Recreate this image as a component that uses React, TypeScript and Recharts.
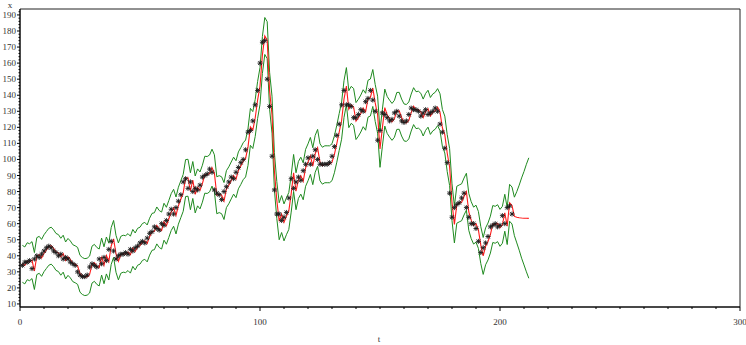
import React from 'react';
import { ComposedChart, Line, XAxis, YAxis, ReferenceArea, Customized } from 'recharts';

// observations x(t), t = 1..205
const obsValues = [
  34, 36, 36, 37, 32, 38, 40, 39, 41, 43,
  45, 46, 45, 43, 42, 40, 41, 38, 39, 38,
  36, 35, 34, 30, 28, 27, 27, 28, 33, 35,
  34, 33, 38, 35, 39, 37, 44, 49, 43, 38,
  40, 41, 41, 42, 41, 44, 43, 45, 46, 48,
  49, 48, 51, 54, 55, 58, 57, 56, 60, 59,
  62, 66, 69, 66, 70, 74, 78, 86, 88, 82,
  86, 80, 82, 81, 84, 89, 90, 91, 94, 92,
  81, 79, 78, 75, 80, 83, 86, 89, 88, 92,
  95, 98, 100, 106, 117, 118, 124, 134, 143, 160,
  173, 174, 150, 133, 102, 81, 66, 66, 62, 64,
  67, 76, 88, 82, 86, 89, 87, 93, 97, 101,
  97, 102, 106, 100, 97, 97, 97, 97, 98, 102,
  108, 115, 122, 134, 143, 134, 134, 133, 126, 126,
  128, 131, 130, 136, 138, 143, 137, 130, 112, 118,
  129, 128, 126, 124, 125, 129, 130, 127, 124, 123,
  124, 128, 132, 131, 131, 130, 127, 129, 131, 128,
  129, 130, 132, 130, 122, 117, 107, 98, 79, 64,
  70, 72, 73, 76, 79, 70, 64, 60, 60, 57,
  49, 42, 45, 48, 52, 58, 59, 60, 58, 59,
  65, 60, 70, 71, 66,
];

// forecast, t = 1..212
const forecastValues = [
  35, 34, 36.6, 36, 37.3, 30.5, 39.8, 40.6, 38.7, 41.6,
  43.6, 45.6, 46.3, 44.7, 42.4, 41.7, 39.4, 41.3, 37.1, 39.3,
  37.7, 35.4, 34.7, 33.7, 28.8, 27.4, 26.7, 27, 28.3, 34.5,
  35.6, 33.7, 32.7, 39.5, 34.1, 40.2, 36.4, 46.1, 50.5, 41.2,
  36.5, 40.6, 41.3, 41, 42.3, 40.7, 44.9, 42.7, 45.6, 46.3,
  48.6, 49.3, 47.7, 51.9, 54.9, 55.3, 58.9, 56.7, 55.7, 61.2,
  58.7, 62.9, 67.2, 69.9, 65.1, 71.2, 75.2, 79.2, 88.4, 88.6,
  80.2, 87.2, 78.2, 82.6, 80.7, 84.9, 90.5, 90.3, 91.3, 94.9,
  91.4, 77.7, 78.4, 77.7, 74.1, 81.5, 83.9, 86.9, 89.9, 87.7,
  93.2, 95.9, 98.9, 100.6, 107.8, 120.3, 118.3, 125.8, 137, 145.7,
  165.1, 176.9, 174.3, 142.8, 127.9, 92.7, 74.7, 61.5, 66, 60.8,
  64.6, 67.9, 78.7, 91.6, 80.2, 87.2, 89.9, 86.4, 94.8, 98.2,
  102.2, 95.8, 103.5, 107.2, 98.2, 96.1, 97, 97, 97, 98.3,
  103.2, 109.8, 117.1, 124.1, 137.6, 145.7, 131.3, 134, 132.7, 123.9,
  126, 128.6, 131.9, 129.7, 137.8, 138.6, 144.5, 135.2, 127.9, 106.6,
  119.8, 132.3, 127.7, 125.4, 123.4, 125.3, 130.2, 130.3, 126.1, 123.1,
  122.7, 124.3, 129.2, 133.2, 130.7, 131, 129.7, 126.1, 129.6, 131.6,
  127.1, 129.3, 130.3, 132.6, 129.4, 119.6, 115.5, 104, 95.3, 73.3,
  59.5, 71.8, 72.6, 73.3, 76.9, 79.9, 67.3, 62.2, 58.8, 60,
  56.1, 46.6, 39.9, 45.9, 48.9, 53.2, 59.8, 59.3, 60.3, 57.4,
  59.3, 66.8, 58.5, 73, 71.3, 64.5, 64, 63.7, 63.5, 63.4,
  63.4, 63.3,
];

// upper confidence limit, t = 1..212
const upperValues = [
  46.5, 45.5, 48.1, 47.5, 48.8, 42, 51.3, 52.1, 50.2, 53.1,
  55.1, 57.1, 57.8, 56.2, 53.9, 53.2, 50.9, 52.8, 48.6, 50.8,
  49.2, 46.9, 46.2, 45.2, 40.3, 38.9, 38.2, 38.5, 39.8, 46,
  47.1, 45.2, 44.2, 51, 45.6, 51.7, 47.9, 57.6, 62, 52.7,
  48, 52.1, 52.8, 52.5, 53.8, 52.2, 56.4, 54.2, 57.1, 57.8,
  60.1, 60.8, 59.2, 63.4, 66.4, 66.8, 70.4, 68.2, 67.2, 72.7,
  70.2, 74.4, 78.7, 81.4, 76.6, 82.7, 86.7, 90.7, 99.9, 100.1,
  91.7, 98.7, 89.7, 94.1, 92.2, 96.4, 102, 101.8, 102.8, 106.4,
  102.9, 89.2, 89.9, 89.2, 85.6, 93, 95.4, 98.4, 101.4, 99.2,
  104.7, 107.4, 110.4, 112.1, 119.3, 131.8, 129.8, 137.3, 148.5, 157.2,
  176.6, 188.4, 185.8, 154.3, 139.4, 104.2, 86.2, 73, 77.5, 72.3,
  76.1, 79.4, 90.2, 103.1, 91.7, 98.7, 101.4, 97.9, 106.3, 109.7,
  113.7, 107.3, 115, 118.7, 109.7, 107.6, 108.5, 108.5, 108.5, 109.8,
  114.7, 121.3, 128.6, 135.6, 149.1, 157.2, 142.8, 145.5, 144.2, 135.4,
  137.5, 140.1, 143.4, 141.2, 149.3, 150.1, 156, 146.7, 139.4, 118.1,
  131.3, 143.8, 139.2, 136.9, 134.9, 136.8, 141.7, 141.8, 137.6, 134.6,
  134.2, 135.8, 140.7, 144.7, 142.2, 142.5, 141.2, 137.6, 141.1, 143.1,
  138.6, 140.8, 141.8, 144.1, 140.9, 131.1, 127, 115.5, 106.8, 84.8,
  71, 83.3, 84.1, 84.8, 88.4, 91.4, 78.8, 73.7, 70.3, 71.5,
  67.6, 58.1, 51.4, 57.4, 60.4, 64.7, 71.3, 70.8, 71.8, 68.9,
  70.8, 78.3, 70, 84.5, 82.8, 76.5, 80, 84, 88.5, 92.5,
  97, 101,
];

// lower confidence limit, t = 1..212
const lowerValues = [
  23.5, 22.5, 25.1, 24.5, 25.8, 19, 28.3, 29.1, 27.2, 30.1,
  32.1, 34.1, 34.8, 33.2, 30.9, 30.2, 27.9, 29.8, 25.6, 27.8,
  26.2, 23.9, 23.2, 22.2, 17.3, 15.9, 15.2, 15.5, 16.8, 23,
  24.1, 22.2, 21.2, 28, 22.6, 28.7, 24.9, 34.6, 39, 29.7,
  25, 29.1, 29.8, 29.5, 30.8, 29.2, 33.4, 31.2, 34.1, 34.8,
  37.1, 37.8, 36.2, 40.4, 43.4, 43.8, 47.4, 45.2, 44.2, 49.7,
  47.2, 51.4, 55.7, 58.4, 53.6, 59.7, 63.7, 67.7, 76.9, 77.1,
  68.7, 75.7, 66.7, 71.1, 69.2, 73.4, 79, 78.8, 79.8, 83.4,
  79.9, 66.2, 66.9, 66.2, 62.6, 70, 72.4, 75.4, 78.4, 76.2,
  81.7, 84.4, 87.4, 89.1, 96.3, 108.8, 106.8, 114.3, 125.5, 134.2,
  153.6, 165.4, 162.8, 131.3, 116.4, 81.2, 63.2, 50, 54.5, 49.3,
  53.1, 56.4, 67.2, 80.1, 68.7, 75.7, 78.4, 74.9, 83.3, 86.7,
  90.7, 84.3, 92, 95.7, 86.7, 84.6, 85.5, 85.5, 85.5, 86.8,
  91.7, 98.3, 105.6, 112.6, 126.1, 134.2, 119.8, 122.5, 121.2, 112.4,
  114.5, 117.1, 120.4, 118.2, 126.3, 127.1, 133, 123.7, 116.4, 95.1,
  108.3, 120.8, 116.2, 113.9, 111.9, 113.8, 118.7, 118.8, 114.6, 111.6,
  111.2, 112.8, 117.7, 121.7, 119.2, 119.5, 118.2, 114.6, 118.1, 120.1,
  115.6, 117.8, 118.8, 121.1, 117.9, 108.1, 104, 92.5, 83.8, 61.8,
  48, 60.3, 61.1, 61.8, 65.4, 68.4, 55.8, 50.7, 47.3, 48.5,
  44.6, 35.1, 28.4, 34.4, 37.4, 41.7, 48.3, 47.8, 48.8, 45.9,
  47.8, 55.3, 47, 61.5, 59.8, 52.5, 48, 43.5, 38.5, 34.3,
  30, 26,
];

const xMajorTicks = [0, 100, 200, 300];
const yMajorTicks = [10, 20, 30, 40, 50, 60, 70, 80, 90, 100, 110, 120, 130, 140, 150, 160, 170, 180, 190];
const X_DOMAIN: [number, number] = [0, 300];
const Y_DOMAIN: [number, number] = [8.1, 193.7];
const xTicks: number[] = [];
for (let v = 0; v <= 300; v += 10) xTicks.push(v);
const yTicks: number[] = [];
for (let v = 10; v <= 192; v += 2) yTicks.push(v);

const data = forecastValues.map((f, i) => ({
  t: i + 1,
  obs: i < obsValues.length ? obsValues[i] : null,
  fc: f,
  lo: lowerValues[i],
  hi: upperValues[i],
}));

const FONT = "'Liberation Serif', 'DejaVu Serif', serif";
const TXT = '#333';

const XTick = (props: any) => {
  const { x, y, payload } = props;
  const major = xMajorTicks.includes(payload.value);
  return (
    <g>
      <line x1={x} y1={y} x2={x} y2={y + (major ? 4 : 2)} stroke="#000" strokeWidth={1} />
      {major && (
        <text x={x} y={y + 18} textAnchor="middle" fontSize={9} fontFamily={FONT} fill={TXT}>
          {payload.value}
        </text>
      )}
    </g>
  );
};

const YTick = (props: any) => {
  const { x, y, payload } = props;
  const major = yMajorTicks.includes(payload.value);
  return (
    <g>
      <line x1={x - (major ? 3 : 1.5)} y1={y} x2={x} y2={y} stroke="#000" strokeWidth={1} />
      {major && (
        <text x={x - 4} y={y + 3} textAnchor="end" fontSize={9} fontFamily={FONT} fill={TXT}>
          {payload.value}
        </text>
      )}
    </g>
  );
};

const StarDot = (props: any) => {
  const { cx, cy, value, index } = props;
  if (value == null || cx == null || cy == null) return <g key={`s${index}`} />;
  const r = 2.5;
  const d = 1.9;
  return (
    <g key={`s${index}`} stroke="#1a1a1a" strokeWidth={0.9}>
      <line x1={cx - r} y1={cy} x2={cx + r} y2={cy} />
      <line x1={cx} y1={cy - r} x2={cx} y2={cy + r} />
      <line x1={cx - d} y1={cy - d} x2={cx + d} y2={cy + d} />
      <line x1={cx - d} y1={cy + d} x2={cx + d} y2={cy - d} />
    </g>
  );
};

const Labels = () => (
  <g>
    <text x={10} y={8} textAnchor="middle" fontSize={9} fontFamily={FONT} fill={TXT}>x</text>
    <text x={379} y={342} textAnchor="middle" fontSize={9} fontFamily={FONT} fill={TXT}>t</text>
  </g>
);

export default function App() {
  return (
    <div style={{ position: 'absolute', left: 0, top: 0, width: 746, height: 345, background: '#fff' }}>
      <ComposedChart
        width={746}
        height={345}
        data={data}
        margin={{ top: 9, right: 6, left: 0, bottom: 0 }}
      >
        <XAxis
          dataKey="t"
          type="number"
          domain={X_DOMAIN}
          ticks={xTicks}
          interval={0}
          tickSize={0}
          tickMargin={0}
          tickLine={false}
          tick={XTick}
          axisLine={{ stroke: '#000' }}
          height={38}
          allowDataOverflow
        />
        <YAxis
          type="number"
          domain={Y_DOMAIN}
          ticks={yTicks}
          interval={0}
          tickSize={0}
          tickMargin={0}
          tickLine={false}
          tick={YTick}
          axisLine={{ stroke: '#000' }}
          width={20}
          allowDataOverflow
        />
        <ReferenceArea x1={X_DOMAIN[0]} x2={X_DOMAIN[1]} y1={Y_DOMAIN[0]} y2={Y_DOMAIN[1]} fill="none" stroke="#222" strokeWidth={1} />
        <Line dataKey="hi" stroke="#1f8a1f" strokeWidth={1} dot={false} activeDot={false} isAnimationActive={false} />
        <Line dataKey="lo" stroke="#1f8a1f" strokeWidth={1} dot={false} activeDot={false} isAnimationActive={false} />
        <Line dataKey="fc" stroke="#ff1a1a" strokeWidth={1.1} dot={false} activeDot={false} isAnimationActive={false} />
        <Line dataKey="obs" stroke="none" dot={StarDot} activeDot={false} isAnimationActive={false} />
        <Customized component={Labels} />
      </ComposedChart>
    </div>
  );
}
